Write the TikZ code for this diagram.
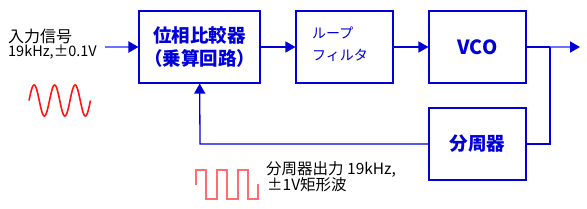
\documentclass[tikz,border=0pt]{standalone}
\usepackage{fontspec}
\setmainfont{Noto Sans CJK JP}
\usetikzlibrary{arrows.meta,positioning}
\definecolor{pllblue}{RGB}{0,0,215}
\definecolor{lineblue}{RGB}{110,110,255}
\definecolor{wavered}{RGB}{255,20,20}
\definecolor{sqred}{RGB}{255,110,110}
\tikzset{
  block/.style={draw=pllblue, line width=1.1pt, minimum width=121pt, minimum height=72pt, inner sep=0pt},
  blocktext/.style={text=pllblue, font=\fontsize{18.5}{23}\selectfont\bfseries, align=center},
  sig/.style={draw=pllblue, line width=1.3pt, -{Triangle[length=10pt,width=11pt]}},
  lightsig/.style={draw=lineblue, line width=2pt, -{Triangle[length=10pt,width=11pt,color=pllblue]}},
  note/.style={anchor=west, inner sep=0pt, font=\fontsize{15.5}{18}\selectfont}
}
\begin{document}
\begin{tikzpicture}[x=1pt, y=-1pt]
  \useasboundingbox (0,0) rectangle (587,209);

  % Blocks
  \node[block, blocktext] (pd) at (199.5,47) {位相比較器\\（乗算回路）};
  \node[block, minimum width=97pt] (lpf) at (344.5,47) {};
  \node[anchor=west, inner sep=0pt, text=pllblue, align=left,
        font=\fontsize{14}{22}\selectfont] (lpftext) at (312,44) {ループ\\フィルタ};
  \node[block, blocktext, minimum width=97pt, font=\fontsize{19.5}{23}\selectfont\bfseries] (vco) at (477.5,47) {VCO};
  \node[block, blocktext, minimum width=97pt] (div) at (477.5,144) {分周器};

  % Input
  \coordinate (in) at (105,47);
  \node[note, font=\fontsize{16}{18}\selectfont] (inlabel) at (8,36) {入力信号};
  \node[note, font=\fontsize{14.5}{18}\selectfont] (infreq) at (8,52) {19kHz,±0.1V};

  % Forward path
  \draw[lightsig] (in) -- (pd);
  \draw[sig] (pd) -- (lpf);
  \draw[sig] (lpf) -- (vco);
  \coordinate (branch) at (550,47);
  \coordinate (out) at (580,47);
  \draw[pllblue, line width=1.3pt] (vco) -- (branch);
  \draw[lightsig] (branch) -- (out);

  % Feedback path
  \coordinate (turn) at (550,144);
  \coordinate (back) at (200,144);
  \draw[pllblue, line width=1.3pt] (branch) -- (turn) -- (div);
  \draw[sig] (div) -- (back) -- (pd);

  % Waveforms
  \draw[wavered, line width=1.6pt, domain=29:90.5, samples=120, smooth]
    plot (\x, {100.5 - 15.5*sin(17.561*(\x-29))});
  \draw[sqred, line width=1.6pt]
    (196,185) -- (196,170) -- (206,170) -- (206,199) -- (217,199) -- (217,170)
    -- (227,170) -- (227,199) -- (238,199) -- (238,170) -- (248,170)
    -- (248,199) -- (258,199) -- (258,184);
  \node[note] (divout) at (266,169) {分周器出力 19kHz,};
  \node[note] (divamp) at (267,185) {±1V矩形波};
\end{tikzpicture}
\end{document}
